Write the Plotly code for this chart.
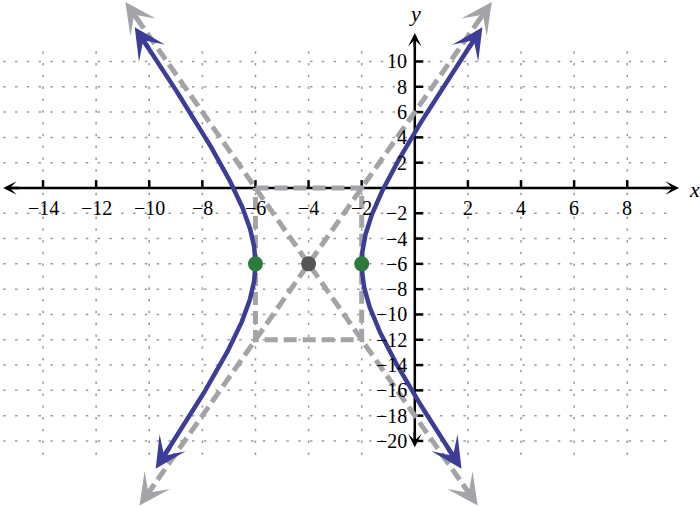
"""Hyperbola (x + 4)^2/4 - (y + 6)^2/36 = 1 with its asymptotes and box."""

import numpy as np
import plotly.graph_objects as go

# hyperbola parameters
center_x, center_y = -4, -6
a = 2
b = 6

# where the branches / asymptotes stop
branch_y_top = 12.7
branch_y_bottom = -22.2
asym_y_top = 14.7
asym_y_bottom = -25.1

# fundamental box
box_x = [-6, -2, -2, -6, -6]
box_y = [0, 0, -12, -12, 0]

vertex_x = [-6, -2]
vertex_y = [-6, -6]

x_ticks = [-14, -12, -10, -8, -6, -4, -2, 2, 4, 6, 8]
y_ticks = [10, 8, 6, 4, 2, -2, -4, -6, -8, -10, -12, -14, -16, -18, -20]
x_grid = [-14, -12, -10, -8, -6, -4, -2, 2, 4, 6, 8]
y_grid = [10, 8, 6, 4, 2, -2, -4, -6, -8, -10, -12, -14, -16, -18, -20]

BLUE = "#3d3d98"
GRAY = "#a2a4a7"
GREEN = "#2b7b3b"
DARK = "#555555"
FONT = "Liberation Serif"

x_range = [-15.62, 10.74]
y_range = [-25.22, 14.86]


def label(v):
    return ("\u2212" + str(-v)) if v < 0 else str(v)


def head(fig, tip, back, color, width, size):
    fig.add_annotation(
        x=tip[0], y=tip[1], ax=back[0], ay=back[1],
        xref="x", yref="y", axref="x", ayref="y",
        text="", showarrow=True, arrowhead=3,
        arrowwidth=width, arrowsize=size, arrowcolor=color, standoff=0,
    )


fig = go.Figure()

# dotted grid
for gx in x_grid:
    fig.add_shape(type="line", x0=gx, x1=gx, y0=-21.1, y1=11.4, layer="below",
                  line=dict(color="#9a9a9a", width=1.5, dash="2.5px,9.3px"))
for gy in y_grid:
    fig.add_shape(type="line", x0=-15.5, x1=9.6, y0=gy, y1=gy, layer="below",
                  line=dict(color="#9a9a9a", width=1.5, dash="2.5px,9.3px"))

# axes
fig.add_trace(go.Scatter(x=[-15.2, 9.6], y=[0, 0], mode="lines",
                         line=dict(color="black", width=2.5), hoverinfo="skip"))
fig.add_trace(go.Scatter(x=[0, 0], y=[-19.8, 11.6], mode="lines",
                         line=dict(color="black", width=2.5), hoverinfo="skip"))
for t in x_ticks:
    fig.add_shape(type="line", x0=t, x1=t, y0=0, y1=0.62, layer="below",
                  line=dict(color="black", width=2.5))
for t in y_ticks:
    fig.add_shape(type="line", x0=0, x1=0.32, y0=t, y1=t, layer="below",
                  line=dict(color="black", width=2.5))

# box and asymptotes
fig.add_trace(go.Scatter(x=box_x, y=box_y, mode="lines",
                         line=dict(color=GRAY, width=5, dash="13px,6px"),
                         hoverinfo="skip"))
for s in (1, -1):
    ys = np.array([asym_y_bottom + 0.8, asym_y_top - 0.8])
    xs = center_x + s * (ys - center_y) * a / b
    fig.add_trace(go.Scatter(x=xs, y=ys, mode="lines",
                             line=dict(color=GRAY, width=5, dash="13px,6px"),
                             hoverinfo="skip"))
    for yt, yb in ((asym_y_top, asym_y_top - 1.8), (asym_y_bottom, asym_y_bottom + 1.8)):
        head(fig,
             (center_x + s * (yt - center_y) * a / b, yt),
             (center_x + s * (yb - center_y) * a / b, yb),
             GRAY, 4.5, 1.15)

# hyperbola branches
ys = np.linspace(branch_y_bottom + 0.7, branch_y_top - 0.7, 400)
for s in (-1, 1):
    xs = center_x + s * a * np.sqrt(1 + ((ys - center_y) / b) ** 2)
    fig.add_trace(go.Scatter(x=xs, y=ys, mode="lines",
                             line=dict(color=BLUE, width=4.5), hoverinfo="skip"))
    for yt, yb in ((branch_y_top, branch_y_top - 1.8), (branch_y_bottom, branch_y_bottom + 1.8)):
        xt = center_x + s * a * np.sqrt(1 + ((yt - center_y) / b) ** 2)
        xb = center_x + s * a * np.sqrt(1 + ((yb - center_y) / b) ** 2)
        head(fig, (xt, yt), (xb, yb), BLUE, 4.5, 1.15)

# vertices and center
fig.add_trace(go.Scatter(x=vertex_x, y=vertex_y, mode="markers",
                         marker=dict(color=GREEN, size=15), hoverinfo="skip"))
fig.add_trace(go.Scatter(x=[center_x], y=[center_y], mode="markers",
                         marker=dict(color=DARK, size=15), hoverinfo="skip"))

# axis arrowheads
head(fig, (9.95, 0), (9.3, 0), "black", 2.5, 0.9)
head(fig, (-15.5, 0), (-14.85, 0), "black", 2.5, 0.9)
head(fig, (0, 12.25), (0, 11.0), "black", 2.5, 0.9)
head(fig, (0, -20.5), (0, -19.2), "black", 2.5, 0.9)

# tick labels
for t in x_ticks:
    fig.add_annotation(x=t, y=-1.6, text=label(t), showarrow=False,
                       xanchor="center", yanchor="middle",
                       font=dict(family=FONT, size=20, color="black"))
for t in y_ticks:
    fig.add_annotation(x=-0.22, y=t, text=label(t), showarrow=False,
                       xanchor="right", yanchor="middle",
                       font=dict(family=FONT, size=20, color="black"))
fig.add_annotation(x=10.52, y=-0.1, text="<i>x</i>", showarrow=False,
                   font=dict(family=FONT, size=22, color="black"))
fig.add_annotation(x=0.0, y=13.8, text="<i>y</i>", showarrow=False,
                   font=dict(family=FONT, size=22, color="black"))

fig.update_layout(
    width=700, height=507,
    margin=dict(l=0, r=0, t=0, b=0),
    paper_bgcolor="white", plot_bgcolor="white",
    showlegend=False,
    xaxis=dict(range=x_range, visible=False, fixedrange=True),
    yaxis=dict(range=y_range, visible=False, fixedrange=True),
)

# drop the page's default body margin so the figure sits at the window corner
fig.write_html(
    "out.html",
    config={"displayModeBar": False},
    post_script="document.body.style.margin='0px';",
)
